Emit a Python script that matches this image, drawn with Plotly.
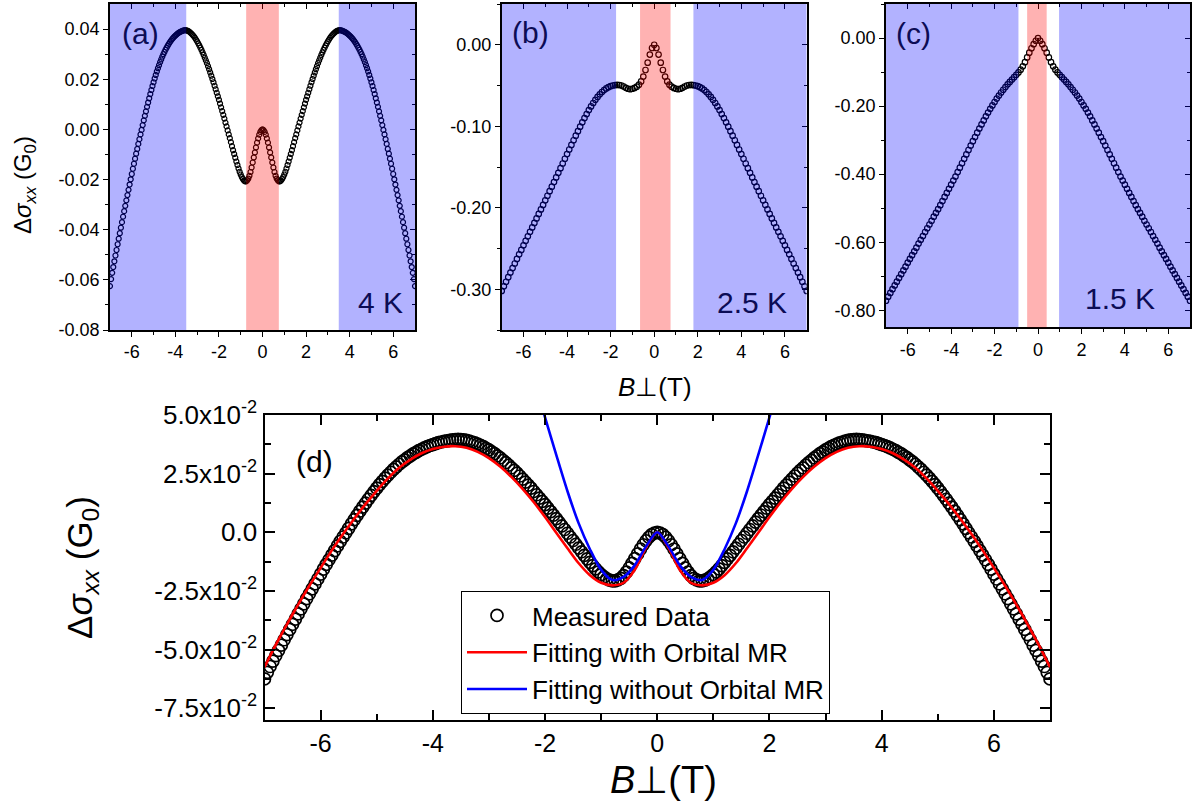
import plotly.graph_objects as go

# ---------------------------------------------------------------- data
# magnetic field sweep (T)
field_4K_T = [round(-7 + 0.05 * i, 2) for i in range(281)]
field_T = [round(-7 + 0.1 * i, 1) for i in range(141)]
fit_field_T = [round(-7 + 0.2 * i, 1) for i in range(71)]
fit_field_short_T = [round(-2.2 + 0.2 * i, 1) for i in range(23)]

# 4 K  (x = -7.00 ... -0.05)
sigma_4K_neg = [
    -0.0625, -0.0597, -0.0572, -0.0549, -0.0526, -0.0503, -0.0481, -0.0458, -0.0436, -0.0414,
    -0.0392, -0.0370, -0.0348, -0.0326, -0.0305, -0.0283, -0.0262, -0.0241, -0.0220, -0.0199,
    -0.0178, -0.0157, -0.0137, -0.0117, -0.0097, -0.0078, -0.0058, -0.0039, -0.0020, -0.0002,
    0.0017, 0.0036, 0.0054, 0.0072, 0.0090, 0.0107, 0.0124, 0.0141, 0.0157, 0.0173,
    0.0188, 0.0203, 0.0217, 0.0231, 0.0244, 0.0256, 0.0268, 0.0279, 0.0290, 0.0300,
    0.0309, 0.0318, 0.0326, 0.0334, 0.0341, 0.0348, 0.0354, 0.0360, 0.0365, 0.0370,
    0.0374, 0.0378, 0.0382, 0.0385, 0.0388, 0.0390, 0.0392, 0.0394, 0.0395, 0.0396,
    0.0395, 0.0394, 0.0392, 0.0389, 0.0385, 0.0381, 0.0376, 0.0371, 0.0365, 0.0358,
    0.0351, 0.0343, 0.0335, 0.0326, 0.0317, 0.0307, 0.0297, 0.0286, 0.0275, 0.0264,
    0.0252, 0.0240, 0.0227, 0.0214, 0.0201, 0.0188, 0.0174, 0.0160, 0.0146, 0.0132,
    0.0118, 0.0103, 0.0088, 0.0073, 0.0058, 0.0043, 0.0027, 0.0012, -0.0004, -0.0020,
    -0.0035, -0.0051, -0.0067, -0.0083, -0.0098, -0.0113, -0.0128, -0.0142, -0.0156, -0.0169,
    -0.0180, -0.0190, -0.0198, -0.0204, -0.0207, -0.0207, -0.0203, -0.0196, -0.0185, -0.0170,
    -0.0152, -0.0132, -0.0112, -0.0092, -0.0072, -0.0053, -0.0036, -0.0021, -0.0010, -0.0003,
]
# 4 K  (x = 0.00 ... 7.00)
sigma_4K_pos = [
    0.0000, -0.0003, -0.0010, -0.0021, -0.0036, -0.0053, -0.0072, -0.0092, -0.0112, -0.0132,
    -0.0152, -0.0170, -0.0185, -0.0196, -0.0203, -0.0207, -0.0207, -0.0204, -0.0198, -0.0190,
    -0.0180, -0.0169, -0.0156, -0.0142, -0.0128, -0.0113, -0.0098, -0.0083, -0.0067, -0.0051,
    -0.0035, -0.0020, -0.0004, 0.0012, 0.0027, 0.0043, 0.0058, 0.0073, 0.0088, 0.0103,
    0.0118, 0.0132, 0.0146, 0.0160, 0.0174, 0.0188, 0.0201, 0.0214, 0.0227, 0.0240,
    0.0252, 0.0264, 0.0275, 0.0286, 0.0297, 0.0307, 0.0317, 0.0326, 0.0335, 0.0343,
    0.0351, 0.0358, 0.0365, 0.0371, 0.0376, 0.0381, 0.0385, 0.0389, 0.0392, 0.0394,
    0.0395, 0.0396, 0.0395, 0.0394, 0.0392, 0.0390, 0.0388, 0.0385, 0.0382, 0.0378,
    0.0374, 0.0370, 0.0365, 0.0360, 0.0354, 0.0348, 0.0341, 0.0334, 0.0326, 0.0318,
    0.0309, 0.0300, 0.0290, 0.0279, 0.0268, 0.0256, 0.0244, 0.0231, 0.0217, 0.0203,
    0.0188, 0.0173, 0.0157, 0.0141, 0.0124, 0.0107, 0.0090, 0.0072, 0.0054, 0.0036,
    0.0017, -0.0002, -0.0020, -0.0039, -0.0058, -0.0078, -0.0097, -0.0117, -0.0137, -0.0157,
    -0.0178, -0.0199, -0.0220, -0.0241, -0.0262, -0.0283, -0.0305, -0.0326, -0.0348, -0.0370,
    -0.0392, -0.0414, -0.0436, -0.0458, -0.0481, -0.0503, -0.0526, -0.0549, -0.0572, -0.0597,
    -0.0625,
]
sigma_4K = sigma_4K_neg + sigma_4K_pos

# 2.5 K  (x = -7.0 ... -0.1)
sigma_2p5K_neg = [
    -0.3020, -0.2964, -0.2908, -0.2852, -0.2796, -0.2740, -0.2684, -0.2628, -0.2572, -0.2517,
    -0.2461, -0.2406, -0.2351, -0.2296, -0.2241, -0.2186, -0.2131, -0.2076, -0.2021, -0.1965,
    -0.1909, -0.1853, -0.1797, -0.1741, -0.1685, -0.1628, -0.1571, -0.1514, -0.1457, -0.1399,
    -0.1342, -0.1285, -0.1229, -0.1172, -0.1116, -0.1060, -0.1005, -0.0952, -0.0900, -0.0850,
    -0.0802, -0.0757, -0.0715, -0.0676, -0.0640, -0.0608, -0.0580, -0.0556, -0.0536, -0.0520,
    -0.0508, -0.0500, -0.0495, -0.0493, -0.0494, -0.0500, -0.0512, -0.0528, -0.0540, -0.0545,
    -0.0540, -0.0530, -0.0515, -0.0490, -0.0450, -0.0390, -0.0310, -0.0220, -0.0120, -0.0040,
]
# 2.5 K  (x = 0.0 ... 7.0)
sigma_2p5K_pos = [
    0.0000, -0.0040, -0.0120, -0.0220, -0.0310, -0.0390, -0.0450, -0.0490, -0.0515, -0.0530,
    -0.0540, -0.0545, -0.0540, -0.0528, -0.0512, -0.0500, -0.0494, -0.0493, -0.0495, -0.0500,
    -0.0508, -0.0520, -0.0536, -0.0556, -0.0580, -0.0608, -0.0640, -0.0676, -0.0715, -0.0757,
    -0.0802, -0.0850, -0.0900, -0.0952, -0.1005, -0.1060, -0.1116, -0.1172, -0.1229, -0.1285,
    -0.1342, -0.1399, -0.1457, -0.1514, -0.1571, -0.1628, -0.1685, -0.1741, -0.1797, -0.1853,
    -0.1909, -0.1965, -0.2021, -0.2076, -0.2131, -0.2186, -0.2241, -0.2296, -0.2351, -0.2406,
    -0.2461, -0.2517, -0.2572, -0.2628, -0.2684, -0.2740, -0.2796, -0.2852, -0.2908, -0.2964,
    -0.3020,
]
sigma_2p5K = sigma_2p5K_neg + sigma_2p5K_pos

# 1.5 K  (x = -7.0 ... -0.1)
sigma_1p5K_neg = [
    -0.772, -0.760, -0.749, -0.738, -0.727, -0.716, -0.705, -0.694, -0.683, -0.672,
    -0.660, -0.649, -0.638, -0.627, -0.616, -0.604, -0.593, -0.582, -0.570, -0.559,
    -0.548, -0.537, -0.525, -0.514, -0.503, -0.491, -0.479, -0.467, -0.455, -0.443,
    -0.431, -0.419, -0.407, -0.394, -0.381, -0.368, -0.355, -0.342, -0.329, -0.316,
    -0.303, -0.291, -0.278, -0.266, -0.254, -0.242, -0.230, -0.219, -0.208, -0.198,
    -0.188, -0.178, -0.169, -0.160, -0.152, -0.144, -0.136, -0.129, -0.122, -0.115,
    -0.108, -0.101, -0.093, -0.083, -0.071, -0.057, -0.043, -0.030, -0.018, -0.008,
]
# 1.5 K  (x = 0.0 ... 7.0)
sigma_1p5K_pos = [
    0.000, -0.008, -0.018, -0.030, -0.043, -0.057, -0.071, -0.083, -0.093, -0.101,
    -0.108, -0.115, -0.122, -0.129, -0.136, -0.144, -0.152, -0.160, -0.169, -0.178,
    -0.188, -0.198, -0.208, -0.219, -0.230, -0.242, -0.254, -0.266, -0.278, -0.291,
    -0.303, -0.316, -0.329, -0.342, -0.355, -0.368, -0.381, -0.394, -0.407, -0.419,
    -0.431, -0.443, -0.455, -0.467, -0.479, -0.491, -0.503, -0.514, -0.525, -0.537,
    -0.548, -0.559, -0.570, -0.582, -0.593, -0.604, -0.616, -0.627, -0.638, -0.649,
    -0.660, -0.672, -0.683, -0.694, -0.705, -0.716, -0.727, -0.738, -0.749, -0.760,
    -0.772,
]
sigma_1p5K = sigma_1p5K_neg + sigma_1p5K_pos

# fit with orbital MR (x = -7.0 ... 7.0 step 0.2)
fit_orbital = [
    -0.0575, -0.0480, -0.0392, -0.0308, -0.0228, -0.0152, -0.0077, -0.0007, 0.0058, 0.0120,
    0.0177, 0.0230, 0.0275, 0.0310, 0.0337, 0.0355, 0.0365, 0.0367, 0.0360, 0.0343,
    0.0316, 0.0280, 0.0236, 0.0185, 0.0128, 0.0065, -0.0002, -0.0068, -0.0132, -0.0183,
    -0.0215, -0.0226, -0.0215, -0.0160, -0.0065,
    0.0000,
    -0.0065, -0.0160, -0.0215, -0.0226, -0.0215, -0.0183, -0.0132, -0.0068, -0.0002, 0.0065,
    0.0128, 0.0185, 0.0236, 0.0280, 0.0316, 0.0343, 0.0360, 0.0367, 0.0365, 0.0355,
    0.0337, 0.0310, 0.0275, 0.0230, 0.0177, 0.0120, 0.0058, -0.0007, -0.0077, -0.0152,
    -0.0228, -0.0308, -0.0392, -0.0480, -0.0575,
]
# fit without orbital MR (x = -2.2 ... 2.2 step 0.2)
fit_no_orbital = [
    0.0660, 0.0490, 0.0330, 0.0175, 0.0038, -0.0072, -0.0160, -0.0203, -0.0190, -0.0140, -0.0060,
    0.0000,
    -0.0060, -0.0140, -0.0190, -0.0203, -0.0160, -0.0072, 0.0038, 0.0175, 0.0330, 0.0490, 0.0660,
]

# tick labels
x_tickvals = [-6, -4, -2, 0, 2, 4, 6]
x_ticktext = ["-6", "-4", "-2", "0", "2", "4", "6"]
x_minorvals = [-5, -3, -1, 1, 3, 5]
a_tickvals = [-0.08, -0.06, -0.04, -0.02, 0.0, 0.02, 0.04]
a_ticktext = ["-0.08", "-0.06", "-0.04", "-0.02", "0.00", "0.02", "0.04"]
a_minorvals = [-0.07, -0.05, -0.03, -0.01, 0.01, 0.03]
b_tickvals = [-0.3, -0.2, -0.1, 0.0]
b_ticktext = ["-0.30", "-0.20", "-0.10", "0.00"]
b_minorvals = [-0.35, -0.25, -0.15, -0.05, 0.05]
c_tickvals = [-0.8, -0.6, -0.4, -0.2, 0.0]
c_ticktext = ["-0.80", "-0.60", "-0.40", "-0.20", "0.00"]
c_minorvals = [-0.7, -0.5, -0.3, -0.1, 0.1]
d_tickvals = [-0.075, -0.05, -0.025, 0.0, 0.025, 0.05]
d_ticktext = ["-7.5x10<sup>-2</sup>", "-5.0x10<sup>-2</sup>", "-2.5x10<sup>-2</sup>",
              "0.0", "2.5x10<sup>-2</sup>", "5.0x10<sup>-2</sup>"]
d_minorvals = [-0.0625, -0.0375, -0.0125, 0.0125, 0.0375]

temperature_labels = ["4 K", "2.5 K", "1.5 K"]
panel_tags = ["(a)", "(b)", "(c)", "(d)"]
legend_names = ["Measured Data", "Fitting with Orbital MR", "Fitting without Orbital MR"]
# shaded field windows (T): outer (blue) starts beyond, inner (red) window
blue_edges_T = [(-3.5, 3.5), (-1.75, 1.8), (-0.9, 0.97)]
red_window_T = [(-0.75, 0.75), (-0.65, 0.75), (-0.5, 0.4)]
y_ranges = [(-0.08, 0.05), (-0.35, 0.05), (-0.85, 0.1)]

# ---------------------------------------------------------------- layout helpers
W, H = 1196, 808
FONT = "Liberation Sans, Arial, Helvetica, sans-serif"
NAVY = "#0c0c55"


def fx(p):
    return p / W


def fy(p):
    return 1 - p / H


small_boxes = [(110, 415, 4, 330), (501.7, 806.7, 4, 330), (886, 1190, 4, 327.3)]
d_box = (264.5, 1050, 415, 720)

fig = go.Figure()

small_data = [(field_4K_T, sigma_4K), (field_T, sigma_2p5K), (field_T, sigma_1p5K)]
small_msize = [5, 5.5, 5.5]
for i, (xs, ys) in enumerate(small_data):
    k = "" if i == 0 else str(i + 1)
    fig.add_trace(go.Scatter(
        x=xs, y=ys, mode="markers", showlegend=False, hoverinfo="skip",
        marker=dict(symbol="circle-open", size=small_msize[i], color="black", line=dict(width=1.2)),
        xaxis="x" + k, yaxis="y" + k))

# panel (d)
fig.add_trace(go.Scatter(
    x=field_4K_T, y=sigma_4K, mode="markers", name=legend_names[0],
    marker=dict(symbol="circle-open", size=12, color="black", line=dict(width=1.7)),
    xaxis="x4", yaxis="y4"))
fig.add_trace(go.Scatter(
    x=fit_field_T, y=fit_orbital, mode="lines", name=legend_names[1],
    line=dict(color="#ff0000", width=2.6, shape="spline", smoothing=0.8),
    xaxis="x4", yaxis="y4"))
fig.add_trace(go.Scatter(
    x=fit_field_short_T, y=fit_no_orbital, mode="lines", name=legend_names[2],
    line=dict(color="#0000ff", width=2.6, shape="spline", smoothing=0.8),
    xaxis="x4", yaxis="y4"))

tickfont_small = dict(size=18, color="black", family=FONT)
layout = {}
shapes = []
annotations = []
for i, (x0, x1, y0, y1) in enumerate(small_boxes):
    k = "" if i == 0 else str(i + 1)
    ko = str(i + 5)
    tv, tt, mv = [(a_tickvals, a_ticktext, a_minorvals),
                  (b_tickvals, b_ticktext, b_minorvals),
                  (c_tickvals, c_ticktext, c_minorvals)][i]
    layout["xaxis" + k] = dict(
        domain=[fx(x0), fx(x1)], anchor="y" + k, range=[-7, 7],
        tickmode="array", tickvals=x_tickvals, ticktext=x_ticktext,
        ticks="outside", ticklen=5, tickwidth=1.3, tickcolor="black",
        minor=dict(tickmode="array", tickvals=x_minorvals, ticks="outside",
                   ticklen=3, tickwidth=1.1, tickcolor="black"),
        showline=True, linecolor="black", linewidth=1.6, mirror=True,
        showgrid=False, zeroline=False, tickfont=tickfont_small, automargin=False)
    layout["yaxis" + k] = dict(
        domain=[fy(y1), fy(y0)], anchor="x" + k, range=list(y_ranges[i]),
        tickmode="array", tickvals=tv, ticktext=tt,
        ticks="outside", ticklen=5, tickwidth=1.3, tickcolor="black",
        minor=dict(tickmode="array", tickvals=mv, ticks="outside",
                   ticklen=3, tickwidth=1.1, tickcolor="black"),
        showline=True, linecolor="black", linewidth=1.6, mirror=True,
        showgrid=False, zeroline=False, tickfont=tickfont_small, automargin=False)
    # mirrored inside ticks (top / right)
    layout["xaxis" + ko] = dict(
        overlaying="x" + k, anchor="y" + k, side="top", range=[-7, 7],
        tickmode="array", tickvals=x_tickvals, showticklabels=False,
        ticks="inside", ticklen=5, tickwidth=1.3, tickcolor="black",
        minor=dict(tickmode="array", tickvals=x_minorvals, ticks="inside",
                   ticklen=3, tickwidth=1.1, tickcolor="black"),
        showline=False, showgrid=False, zeroline=False, automargin=False)
    layout["yaxis" + ko] = dict(
        overlaying="y" + k, anchor="x" + k, side="right", range=list(y_ranges[i]),
        tickmode="array", tickvals=tv, showticklabels=False,
        ticks="inside", ticklen=5, tickwidth=1.3, tickcolor="black",
        minor=dict(tickmode="array", tickvals=mv, ticks="inside",
                   ticklen=3, tickwidth=1.1, tickcolor="black"),
        showline=False, showgrid=False, zeroline=False, automargin=False)
    fig.add_trace(go.Scatter(x=[None], y=[None], xaxis="x" + ko, yaxis="y" + k,
                             showlegend=False, hoverinfo="skip"))
    fig.add_trace(go.Scatter(x=[None], y=[None], xaxis="x" + k, yaxis="y" + ko,
                             showlegend=False, hoverinfo="skip"))

    # translucent field windows drawn over the data
    bl, br = blue_edges_T[i]
    rl, rr = red_window_T[i]
    xr = "x" if i == 0 else "x" + str(i + 1)
    yr = ("y" if i == 0 else "y" + str(i + 1)) + " domain"
    for (a, b, col) in [(-7, bl, "rgba(0,0,255,0.3)"), (br, 7, "rgba(0,0,255,0.3)"),
                        (rl, rr, "rgba(255,0,0,0.3)")]:
        shapes.append(dict(type="rect", xref=xr, yref=yr, x0=a, x1=b, y0=0, y1=1,
                           fillcolor=col, line=dict(width=0), layer="above"))

# panel (d) axes
layout["xaxis4"] = dict(
    domain=[fx(d_box[0]), fx(d_box[1])], anchor="y4", range=[-7, 7],
    tickmode="array", tickvals=x_tickvals, ticktext=x_ticktext,
    ticks="inside", ticklen=10, tickwidth=2, tickcolor="black",
    minor=dict(tickmode="array", tickvals=x_minorvals, ticks="inside",
               ticklen=6, tickwidth=1.6, tickcolor="black"),
    showline=True, linecolor="black", linewidth=2.2, mirror="ticks",
    showgrid=False, zeroline=False, tickfont=dict(size=25, color="black", family=FONT),
    automargin=False)
layout["yaxis4"] = dict(
    domain=[fy(d_box[3]), fy(d_box[2])], anchor="x4", range=[-0.08, 0.05],
    tickmode="array", tickvals=d_tickvals, ticktext=d_ticktext,
    ticks="inside", ticklen=10, tickwidth=2, tickcolor="black",
    minor=dict(tickmode="array", tickvals=d_minorvals, ticks="inside",
               ticklen=6, tickwidth=1.6, tickcolor="black"),
    showline=True, linecolor="black", linewidth=2.2, mirror="ticks",
    showgrid=False, zeroline=False, tickfont=dict(size=26, color="black", family=FONT),
    automargin=False)

# labels
ylab = "Δ<i>σ</i><sub><i>xx</i></sub> (G<sub>0</sub>)"
blab = "<i>B</i>⊥(T)"
annotations += [
    dict(x=fx(25), y=fy(185), text=ylab, textangle=-90, font=dict(size=24, family=FONT, color="black")),
    dict(x=fx(655), y=fy(387), text=blab, font=dict(size=26, family=FONT, color="black")),
    dict(x=fx(82), y=fy(568), text=ylab, textangle=-90, font=dict(size=35, family=FONT, color="black")),
    dict(x=fx(663), y=fy(780), text=blab, font=dict(size=38, family=FONT, color="black")),
]
tag_pos = [(140, 33), (530, 32), (913, 33)]
temp_pos = [(380, 302), (752, 302), (1120, 298)]
for i in range(3):
    annotations.append(dict(x=fx(tag_pos[i][0]), y=fy(tag_pos[i][1]), text=panel_tags[i],
                            font=dict(size=30, family=FONT, color=NAVY)))
    annotations.append(dict(x=fx(temp_pos[i][0]), y=fy(temp_pos[i][1]), text=temperature_labels[i],
                            font=dict(size=30, family=FONT, color=NAVY)))
annotations.append(dict(x=fx(314), y=fy(462), text=panel_tags[3],
                        font=dict(size=30, family=FONT, color="black")))
for a in annotations:
    a.update(xref="paper", yref="paper", showarrow=False, xanchor="center", yanchor="middle")

fig.update_layout(
    width=W, height=H, margin=dict(l=0, r=0, t=0, b=0, pad=0, autoexpand=False),
    paper_bgcolor="white", plot_bgcolor="white",
    font=dict(family=FONT, color="black"),
    shapes=shapes, annotations=annotations,
    legend=dict(x=fx(461), y=fy(591), xanchor="left", yanchor="top",
                bgcolor="white", bordercolor="black", borderwidth=1,
                font=dict(size=26, family=FONT, color="black"),
                itemwidth=60, tracegroupgap=0),
    **layout,
)

fig.write_html("out.html", config={"displayModeBar": False},
               post_script="document.body.style.margin='0px';document.body.style.overflow='hidden';")
